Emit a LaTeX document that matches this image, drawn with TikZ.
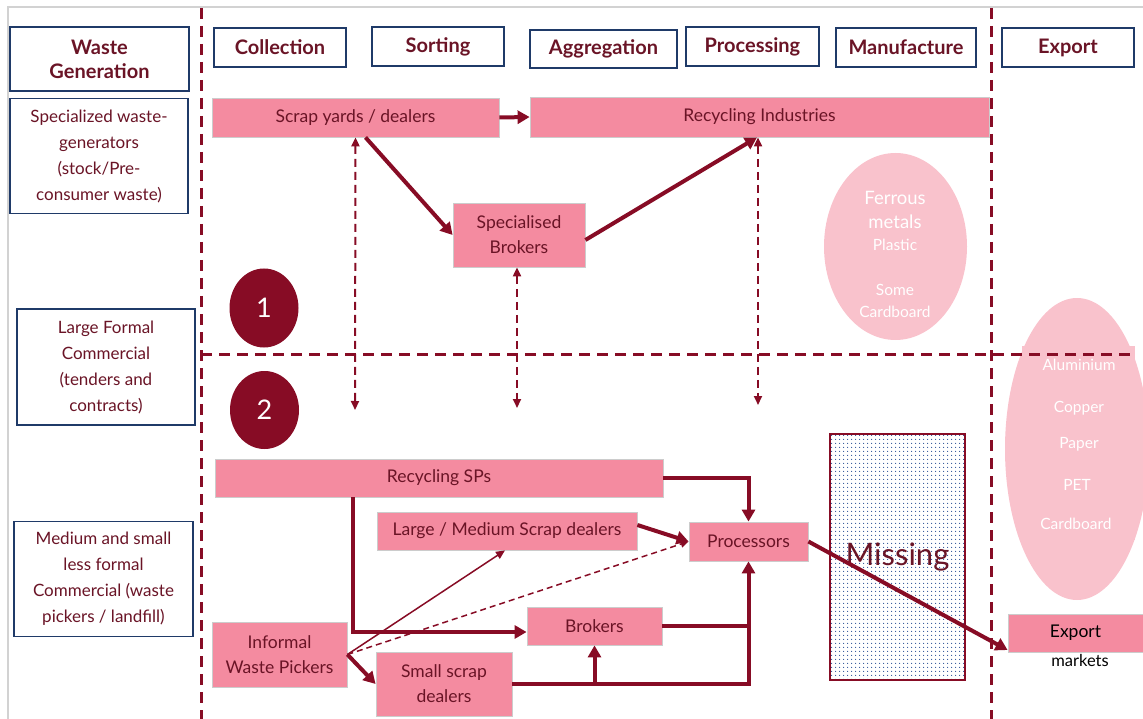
\documentclass[tikz,border=0pt]{standalone}
\usepackage{fontspec}
\setmainfont{Lato}
\usetikzlibrary{arrows.meta,patterns.meta,calc,shapes.geometric}

\definecolor{maroon}{HTML}{870C25}
\definecolor{txtmaroon}{HTML}{6A1426}
\definecolor{navy}{HTML}{1F3A68}
\definecolor{boxpink}{HTML}{F48BA0}
\definecolor{lightpink}{HTML}{F9C2CC}
\definecolor{slidegrey}{HTML}{D2D2D2}
\definecolor{dotblue}{HTML}{2A4F96}

\tikzset{
  hdr/.style={draw=navy, line width=1.5pt, fill=white, text=txtmaroon,
    font=\fontsize{20}{24}\selectfont\bfseries, inner sep=0pt, align=center},
  genbox/.style={draw=navy, line width=1.3pt, fill=white, text=txtmaroon,
    font=\fontsize{17}{26}\selectfont, inner sep=0pt, align=center},
  pinkbox/.style={draw=black!20, line width=0.8pt, fill=boxpink, text=txtmaroon,
    font=\fontsize{17.5}{25}\selectfont, inner sep=0pt, align=center},
  badge/.style={ellipse, fill=maroon, inner sep=0pt, text=white,
    font=\fontsize{27}{27}\selectfont},
  blob/.style={ellipse, fill=lightpink, inner sep=0pt},
  mat/.style={text=white, inner sep=0pt, font=\fontsize{15.5}{15.5}\selectfont},
  matbig/.style={text=white, inner sep=0pt, font=\fontsize{18.5}{18.5}\selectfont},
  divider/.style={draw=maroon, line width=3pt, dash pattern=on 11pt off 7pt},
  link/.style={draw=maroon, line width=2pt, dash pattern=on 8pt off 5pt,
    {Triangle[length=9pt,width=8pt]}-{Triangle[length=9pt,width=8pt]}},
  flow/.style={draw=maroon, line width=4pt, -{Triangle[length=12pt,width=13pt]}},
  plain/.style={draw=maroon, line width=4pt},
  thinflow/.style={draw=maroon, line width=1.5pt, -{Triangle[length=9pt,width=8pt]}},
  dashflow/.style={draw=maroon, line width=1.5pt, dash pattern=on 6pt off 4pt,
    -{Triangle[length=8pt,width=7pt]}},
}

\begin{document}
\begin{tikzpicture}[x=1pt, y=-1pt]
  \useasboundingbox (0,0) rectangle (1143,719);

  % slide frame
  \draw[slidegrey, line width=2pt] (8,719) -- (8,7) -- (1143,7);

  % column headers
  \node[hdr, minimum width=179, minimum height=64] (wg) at (99.5,59) {Waste\\Generation};
  \node[hdr, minimum width=132, minimum height=39] (col) at (280,47.5) {Collection};
  \node[hdr, minimum width=132, minimum height=39] (sort) at (438,46.5) {Sorting};
  \node[hdr, minimum width=147, minimum height=38] (agg) at (603.5,49) {Aggregation};
  \node[hdr, minimum width=133, minimum height=39] (proc) at (752.5,46.5) {Processing};
  \node[hdr, minimum width=140, minimum height=39] (man) at (906,47.5) {Manufacture};
  \node[hdr, minimum width=132, minimum height=39] (exp) at (1068,47.5) {Export};

  % waste generator groups
  \node[genbox, minimum width=178, minimum height=115] (spec) at (99,156)
    {Specialized waste-\\generators\\(stock/Pre-\\consumer waste)};
  \node[genbox, minimum width=178, minimum height=116] (large) at (106,367)
    {Large Formal\\Commercial\\(tenders and\\contracts)};
  \node[genbox, minimum width=179, minimum height=115] (med) at (103.5,579)
    {Medium and small\\less formal\\Commercial (waste\\pickers / landfill)};

  % material blobs
  \node[blob, minimum width=143, minimum height=187] (ferr) at (895.5,246.5) {};
  \node[matbig] (fe1) at (895,198) {Ferrous};
  \node[matbig] (fe2) at (895,222) {metals};
  \node[mat] (fe3) at (895,245) {Plastic};
  \node[mat] (fe4) at (895,290) {Some};
  \node[mat] (fe5) at (895,312) {Cardboard};

  \node[blob, minimum width=144, minimum height=302] (expblob) at (1077,449) {};
  \node[fill=lightpink, inner sep=0pt, minimum width=113, minimum height=194] (expmat) at (1078.5,443) {};
  \node[mat] (ex1) at (1079,365) {Aluminium};
  \node[mat] (ex2) at (1079,408) {Copper};
  \node[mat] (ex3) at (1079,444) {Paper};
  \node[mat] (ex4) at (1077,485) {PET};
  \node[mat] (ex5) at (1076,524) {Cardboard};

  % section dividers
  \draw[divider] (201,8) -- (201,719);
  \draw[divider] (991,8) -- (991,719);
  \draw[divider] (201,354) -- (1135,354);

  % route badges
  \node[badge, minimum width=69, minimum height=79] (b1) at (264,308) {1};
  \node[badge, minimum width=69, minimum height=78] (b2) at (264.5,410) {2};

  % route 1 actors
  \node[pinkbox, minimum width=287, minimum height=39] (scrap) at (355.5,117.5) {Scrap yards / dealers};
  \node[pinkbox, minimum width=459, minimum height=40] (recind) at (759.5,117) {Recycling Industries};
  \node[pinkbox, minimum width=132, minimum height=64] (sbrok) at (519,235) {Specialised\\Brokers};

  % route 2 actors
  \node[pinkbox, minimum width=448, minimum height=38] (rsp) at (439,478) {Recycling SPs};
  \node[pinkbox, minimum width=260, minimum height=38] (lmsd) at (507,531) {Large / Medium Scrap dealers};
  \node[pinkbox, minimum width=119, minimum height=39] (procs) at (748.5,541.5) {Processors};
  \node[pinkbox, minimum width=135, minimum height=38] (brok) at (594.5,626) {Brokers};
  \node[pinkbox, minimum width=136, minimum height=64] (ssd) at (444,684) {Small scrap\\dealers};
  \node[pinkbox, minimum width=135, minimum height=65] (iwp) at (279.5,654.5) {Informal\\Waste Pickers};
  \node[pinkbox, minimum width=135, minimum height=38, text=black] (expm) at (1075.5,633) {Export};
  \node[text=black, inner sep=0pt, font=\fontsize{16.5}{16.5}\selectfont] (mkts) at (1080,660) {markets};

  % gap in the chain
  \node[draw=maroon, line width=2pt, fill=white, minimum width=135, minimum height=246,
        pattern={Dots[distance=4pt, radius=0.7pt]}, pattern color=dotblue,
        text=txtmaroon, font=\fontsize{31}{31}\selectfont, inner sep=0pt] (miss) at (897.5,557) {Missing};

  % cross-route links
  \coordinate (d1) at (355,410);
  \coordinate (d2) at (517,408);
  \coordinate (d3) at (758,405);
  \draw[link] (scrap.south) -- (d1);
  \draw[link] ([xshift=-2pt]sbrok.south) -- (d2);
  \draw[link] ([xshift=-1.5pt]recind.south) -- (d3);

  % route 1 flows
  \draw[flow] (scrap.east) -- (recind.west);
  \draw[flow] ([xshift=10pt]scrap.south) -- (sbrok.west);
  \draw[flow] ([yshift=-5pt]sbrok.east) -- ([xshift=-2.5pt]recind.south);

  % route 2 flows
  \draw[flow] (rsp.east) -| (procs.north);
  \draw[flow] ([yshift=6pt]lmsd.east) -- (procs.west);
  \draw[flow] ([xshift=-86pt]rsp.south) |- ([yshift=-6pt]brok.west);
  \draw[thinflow] (iwp.east) -- ([xshift=-2pt]lmsd.south);
  \draw[dashflow] (iwp.east) -- (procs.west);
  \draw[flow] (iwp.east) -- (ssd.west);
  \draw[flow] (ssd.east) -| (procs.south);
  \draw[flow] (brok.south |- ssd.east) -- (brok.south);
  \draw[plain] (brok.east) -- (procs.south |- brok.east);
  \draw[flow] (procs.east) -- ([yshift=-17pt]expm.west);
\end{tikzpicture}
\end{document}
